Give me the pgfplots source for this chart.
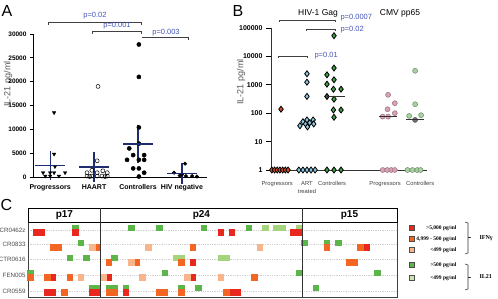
\documentclass[border=0pt]{standalone}
\usepackage{pgfplots}
\pgfplotsset{compat=1.18}
\usepackage{fontspec}
\setmainfont{Liberation Sans}
\newfontfamily\serif{Liberation Serif}

\definecolor{navy}{HTML}{1F2C6E}
\definecolor{pblue}{HTML}{4455B8}
\definecolor{hmred}{HTML}{E8281E}
\definecolor{hmorange}{HTML}{F26522}
\definecolor{hmlorange}{HTML}{F9B48A}
\definecolor{hmgreen}{HTML}{5BB548}
\definecolor{hmlgreen}{HTML}{A5D47C}
\definecolor{progred}{HTML}{D4502B}
\definecolor{artblue}{HTML}{8CC6E0}
\definecolor{ctrlgreen}{HTML}{3E9E4A}
\definecolor{cmvpink}{HTML}{D8A2B2}
\definecolor{cmvgreen}{HTML}{A6D3A0}

\pgfplotsset{cell/.style={only marks, mark=square*, mark size=2.8pt, #1,
    mark options={solid, fill=#1, draw=#1, line width=0pt, yscale=0.9}}}

\begin{document}
\begin{tikzpicture}[x=1pt,y=1pt]
\useasboundingbox (0,0) rectangle (498,298);

% ---------------- Panel A ----------------
\node[font=\fontsize{16}{16}\selectfont] at (7,287) {A};
\node[rotate=90, font=\fontsize{9}{9}\selectfont, text=black!65] at (8,214) {IL-21 pg/ml};
\begin{axis}[
  at={(33pt,121pt)}, anchor=south west,
  scale only axis, width=174pt, height=143pt,
  xmin=-0.39, xmax=3.57, ymin=0, ymax=30000,
  axis x line*=bottom, axis y line*=left,
  axis line style={-, line width=0.9pt},
  xtick={0,1,2,3}, xticklabels={Progressors,HAART,Controllers,HIV negative},
  x tick style={draw=none},
  xticklabel style={font=\fontsize{7}{8}\selectfont\bfseries, yshift=-1pt},
  ytick={0,5000,...,30000},
  yticklabel style={font=\fontsize{6.5}{7}\selectfont\bfseries},
  /pgf/number format/assume math mode=true,
  /pgf/number format/1000 sep={},
  scaled y ticks=false,
  tick align=outside, major tick length=3pt,
  y tick style={line width=0.8pt, black},
  clip=false,
]
% Progressors
\addplot[only marks, mark=triangle*, mark size=2pt, mark options={rotate=180, fill=black, draw=black}]
  coordinates {(0.09,13500) (0.09,4800) (0.11,2200) (-0.16,900) (0.0,900) (0.09,900) (0.34,900)
               (-0.11,200) (0.0,200) (0.2,200)};
% HAART
\addplot[only marks, mark=o, mark size=2pt, mark options={draw=black, line width=0.5pt}]
  coordinates {(1.09,19000) (1.07,3400) (0.95,1400) (1.2,1300) (0.84,900) (1.07,900) (1.3,900)
               (0.84,200) (0.95,200) (1.07,200) (1.18,200) (1.3,200) (0.9,100) (1.25,100)};
% Controllers
\addplot[only marks, mark=*, mark size=2.1pt, mark options={fill=black, draw=black}]
  coordinates {(2.02,27800) (2.02,21000) (2.02,10400) (2.02,7000) (1.8,6000) (1.89,4600) (2.14,4600)
               (1.75,3600) (2.02,3600) (2.14,3600) (1.89,1800) (2.02,1800) (2.14,900) (2.02,100)};
% HIV negative
\addplot[only marks, mark=*, mark size=1.8pt, mark options={fill=black, draw=black}]
  coordinates {(3.07,2800) (2.82,900) (3.0,500) (2.95,300) (3.09,200) (3.23,200) (3.34,100)};
% mean +- SEM
\addplot[navy, line width=1.3pt, only marks, mark=-, mark size=15pt,
  error bars/.cd, y dir=both, y explicit,
  error bar style={line width=1.2pt, navy},
  error mark options={navy, mark size=8.5pt, line width=1.2pt}]
  coordinates {(0,2470) +- (0,1250) (1,2070) +- (0,1300) (2,6900) +- (0,2130) (3,714) +- (0,370)};
\end{axis}
% significance brackets
\draw[black!75, line width=0.8pt] (48,273) -- (48,276) -- (141,276) -- (141,273);
\node[text=pblue, font=\fontsize{7.5}{8}\selectfont] at (95,282) {p=0.02};
\draw[black!75, line width=0.8pt] (92,264) -- (92,267) -- (141,267) -- (141,264);
\node[text=pblue, font=\fontsize{7.5}{8}\selectfont] at (117,272) {p=0.001};
\draw[black!75, line width=0.8pt] (142,260.5) -- (188,260.5) -- (188,258);
\node[text=pblue, font=\fontsize{7.5}{8}\selectfont] at (166,265.5) {p=0.003};

% ---------------- Panel B ----------------
\node[font=\fontsize{16}{16}\selectfont] at (238,287) {B};
\node[rotate=90, font=\fontsize{9}{9}\selectfont, text=black!65] at (241,216) {IL-21 pg/ml};
\node[font=\fontsize{8.5}{9}\selectfont] at (318,285) {HIV-1 Gag};
\node[font=\fontsize{8.5}{9}\selectfont] at (400,285) {CMV pp65};
\begin{axis}[
  at={(271pt,128pt)}, anchor=south west,
  scale only axis, width=156pt, height=142pt,
  xmin=-0.33, xmax=5.44, ymode=log, ymin=1, ymax=100000,
  axis x line*=bottom, axis y line*=left,
  axis line style={-, line width=0.9pt, black!80},
  xtick={-0.1,1,1.93,3.89,5.19},
  xticklabels={Progressors,{ART\\treated},Controllers,Progressors,Controllers},
  xticklabel style={align=center, font=\fontsize{5.8}{7.5}\selectfont, text=black!75, yshift=-3pt},
  x tick style={draw=none},
  extra x ticks={3}, extra x tick labels={},
  extra x tick style={tick style={draw=black!80, line width=0.8pt}},
  ytick={1,10,100,1000,10000,100000},
  yticklabels={1,10,100,1000,10000,100000},
  yticklabel style={font=\fontsize{7}{8}\selectfont\bfseries},
  yminorticks=false,
  tick align=outside, major tick length=5pt,
  y tick style={line width=0.8pt, black},
  clip=false,
]
% CMV pp65, progressors
\addplot[only marks, mark=*, mark size=2.5pt, mark options={fill=cmvpink, draw=cmvpink!70!black, line width=0.5pt}]
  coordinates {(4,445) (4.25,225) (3.98,138) (4.25,100) (3.8,76) (4,76)
               (3.8,1) (3.97,1) (4.12,1) (4.25,1)};
% CMV pp65, controllers
\addplot[only marks, mark=*, mark size=2.5pt, mark options={fill=cmvgreen, draw=cmvgreen!65!black, line width=0.5pt}]
  coordinates {(5,3110) (5,207) (4.78,80) (5.22,85) (4.72,1) (4.9,1) (5.08,1) (5.2,1)};
\addplot[only marks, mark=*, mark size=2.5pt, mark options={fill=black!55, draw=black!70, line width=0.5pt}]
  coordinates {(5,58)};
% HIV-1 Gag, progressors
\addplot[only marks, mark=diamond*, mark size=3pt, mark options={fill=progred, draw=black, line width=0.8pt}]
  coordinates {(0.04,138) (-0.3,1) (-0.2,1) (-0.1,1) (0,1) (0.1,1) (0.2,1) (0.3,1)};
% HIV-1 Gag, ART treated
\addplot[only marks, mark=diamond*, mark size=3pt, mark options={fill=artblue, draw=black, line width=0.8pt}]
  coordinates {(1,2450) (1,1240) (1,390) (0.74,36) (0.85,50) (0.95,42) (1,58) (1.02,33)
               (1.1,46) (1.23,58) (1.25,42) (0.7,1) (0.85,1) (1,1) (1.15,1) (1.3,1)};
% HIV-1 Gag, controllers
\addplot[only marks, mark=diamond*, mark size=3pt, mark options={fill=ctrlgreen, draw=black, line width=0.8pt}]
  coordinates {(2,53700) (2,3880) (1.74,2240) (2,1500) (1.74,1050) (1.98,700) (2.26,700) (2,312)
               (1.98,130) (2.26,130) (2,72) (1.74,1) (2,1) (2.26,1)};
\addplot[only marks, mark=diamond*, mark size=3pt, mark options={fill=black!70, draw=black, line width=0.8pt}]
  coordinates {(1.74,387)};
% medians
\addplot[only marks, mark=-, mark size=9pt, mark options={draw=black!80, line width=1pt}]
  coordinates {(2.06,387) (4,74) (5,58)};
\end{axis}
\draw[black!75, line width=0.8pt] (279,276) -- (279,278) -- (335,278) -- (335,276);
\node[text=pblue, font=\fontsize{7.5}{8}\selectfont, anchor=west] at (337,280) {p=0.0007};
\draw[black!75, line width=0.8pt] (306,267) -- (306,269) -- (335,269) -- (335,267);
\node[text=pblue, font=\fontsize{7.5}{8}\selectfont, anchor=west] at (337,268) {p=0.02};
\draw[black!75, line width=0.8pt] (278,240) -- (278,242) -- (307,242) -- (307,240);
\node[text=pblue, font=\fontsize{7.5}{8}\selectfont, anchor=west] at (311,242) {p=0.01};

% ---------------- Panel C ----------------
\node[font=\fontsize{16}{16}\selectfont] at (6.5,93) {C};
\begin{axis}[
  at={(28pt,1pt)}, anchor=south west,
  scale only axis, width=369pt, height=75pt,
  xmin=0, xmax=66, ymin=0, ymax=5, y dir=reverse,
  xtick=\empty,
  minor xtick={1,...,65}, minor tick length=0pt,
  xminorgrids,
  minor grid style={black!22, line width=0.35pt, dash pattern=on 1.3pt off 1pt},
  ytick={0.55,1.5,2.5,3.57,4.6},
  yticklabels={CR0462z,CR0833,CTR0616,FEN005,CR0559},
  y tick style={draw=none},
  ymajorgrids,
  major grid style={black!18, line width=0.35pt, dash pattern=on 1.3pt off 1pt},
  yticklabel style={font=\fontsize{6.2}{7}\selectfont, text=black!70, xshift=1pt},
  axis line style={black!75, line width=0.8pt},
  clip=false,
]
% IL21 > 500 pg/ml
\addplot[cell=hmgreen]
  coordinates {(8.5,0.37) (18.5,0.37) (23.5,0.37) (31.5,0.37) (39.5,0.37)
               (9.5,1.37) (49.5,1.37) (53.5,1.37) (55.5,1.37)
               (7.5,2.37) (10.5,2.37) (15.5,2.37)
               (0.5,3.37) (24.5,3.37) (48.5,3.37) (62.5,3.37)
               (11.5,4.37) (12.5,4.37) (14.5,4.37) (15.5,4.37) (17.5,4.37) (27.5,4.37) (30.5,4.37) (51.5,4.37)};
% IL21 < 499 pg/ml
\addplot[cell=hmlgreen]
  coordinates {(42.5,0.37) (44.5,0.37) (45.5,0.37) (48.5,0.37)
               (26.5,2.37) (27.5,2.37) (34.5,2.37) (35.5,2.37)};
% IFNg > 5,000 pg/ml
\addplot[cell=hmred]
  coordinates {(1.5,0.7) (2.5,0.7) (8.5,0.7) (34.5,0.7) (36.5,0.7) (47.5,0.7) (48.5,0.7)
               (60.5,1.7)
               (29.5,2.7)
               (4.5,3.7) (14.5,3.7) (29.5,3.7)
               (3.5,4.7) (4.5,4.7) (11.5,4.7) (12.5,4.7) (17.5,4.7) (36.5,4.7) (37.5,4.7)};
% IFNg 4,999 - 500 pg/ml
\addplot[cell=hmorange]
  coordinates {(4.5,1.7) (5.5,1.7) (12.5,1.7) (29.5,1.7) (53.5,1.7) (59.5,1.7)
               (14.5,2.7) (19.5,2.7) (27.5,2.7) (57.5,2.7) (58.5,2.7)
               (0.5,3.7) (3.5,3.7) (7.5,3.7) (40.5,3.7)
               (6.5,4.7) (14.5,4.7) (15.5,4.7) (23.5,4.7) (24.5,4.7) (27.5,4.7) (35.5,4.7)};
% IFNg < 499 pg/ml
\addplot[cell=hmlorange]
  coordinates {(11.5,1.7) (21.5,1.7) (41.5,1.7)
               (18.5,2.7)
               (9.5,3.7) (13.5,3.7) (20.5,3.7) (28.5,3.7) (34.5,3.7)};
\end{axis}
% header strip and protein boundaries
\draw[black, line width=0.9pt] (28,76) rectangle (397,90);
\draw[black!80, line width=0.9pt] (100.7,90) -- (100.7,1);
\draw[black!80, line width=0.9pt] (302,90) -- (302,1);
\node[font=\fontsize{10}{10}\selectfont\bfseries] at (64.4,83) {p17};
\node[font=\fontsize{10}{10}\selectfont\bfseries] at (201.4,83) {p24};
\node[font=\fontsize{10}{10}\selectfont\bfseries] at (349.5,83) {p15};

% key
\begin{scope}[font=\serif\bfseries\fontsize{5.5}{6}\selectfont]
\draw[black!70, line width=0.5pt, fill=hmred] (409,67.5) rectangle (414,72.5);
\node[anchor=east] at (460,70) {>5,000 pg/ml};
\draw[black!70, line width=0.5pt, fill=hmorange] (409,56.5) rectangle (414,61.5);
\node[anchor=east] at (460,59) {4,999 - 500 pg/ml};
\draw[black!70, line width=0.5pt, fill=hmlorange] (409,45.5) rectangle (414,50.5);
\node[anchor=east] at (460,48) {<499 pg/ml};
\draw[black!70, line width=0.5pt, fill=hmgreen] (409,30.5) rectangle (414,35.5);
\node[anchor=east] at (460,33) {>500 pg/ml};
\draw[black!70, line width=0.5pt, fill=hmlgreen!60!white] (409,17.5) rectangle (414,22.5);
\node[anchor=east] at (460,20) {<499 pg/ml};
\end{scope}
\draw[black!80, line width=0.6pt] (465,76) -- (468,75) -- (468,45) -- (465,44);
\draw[black!80, line width=0.6pt] (468,60.5) -- (471,60.5);
\node[font=\serif\bfseries\fontsize{6}{6}\selectfont, anchor=west] at (476,60) {IFNγ};
\draw[black!80, line width=0.6pt] (465,34) -- (468,33) -- (468,9) -- (465,8);
\draw[black!80, line width=0.6pt] (468,21) -- (471,21);
\node[font=\serif\bfseries\fontsize{6}{6}\selectfont, anchor=west] at (476,21) {IL21};
\end{tikzpicture}
\end{document}
